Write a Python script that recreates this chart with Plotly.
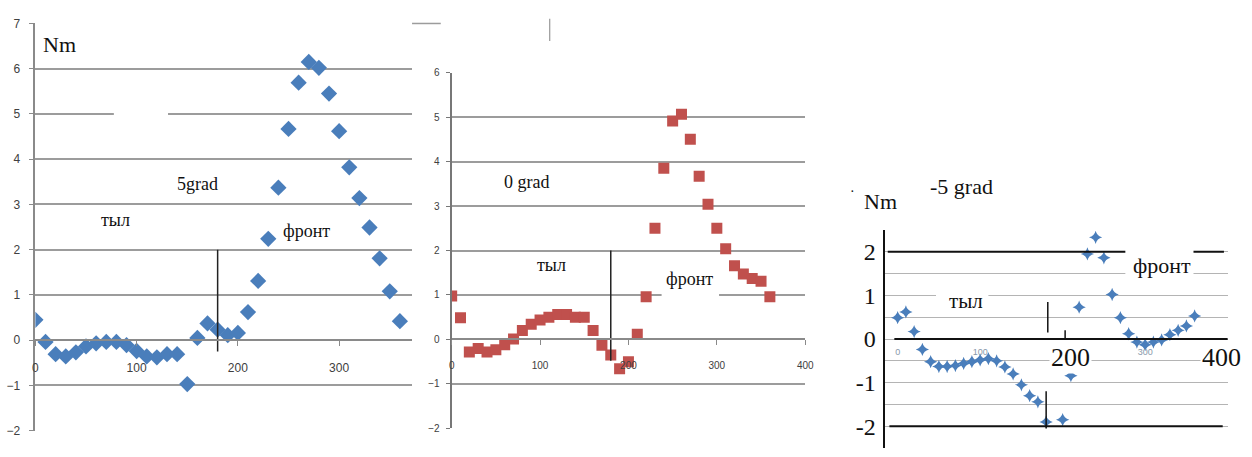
import plotly.graph_objects as go

W, H = 1252, 457

# ---------------- data ----------------
angle_5 = list(range(0, 370, 10))
torque_5 = [0.45, -0.04, -0.31, -0.36, -0.27, -0.14, -0.07, -0.04, -0.04, -0.11,
            -0.24, -0.36, -0.38, -0.31, -0.31, -0.97, 0.05, 0.37, 0.23, 0.11,
            0.16, 0.62, 1.31, 2.24, 3.37, 4.67, 5.69, 6.15, 6.02, 5.45,
            4.62, 3.82, 3.14, 2.49, 1.81, 1.08, 0.42]

angle_0 = list(range(0, 370, 10))
torque_0 = [0.98, 0.49, -0.28, -0.20, -0.28, -0.23, -0.12, 0.01, 0.20, 0.34,
            0.44, 0.50, 0.56, 0.56, 0.50, 0.50, 0.20, -0.13, -0.35, -0.66,
            -0.50, 0.12, 0.96, 2.50, 3.85, 4.91, 5.06, 4.50, 3.67, 3.04,
            2.50, 2.04, 1.66, 1.47, 1.37, 1.31, 0.96]

angle_m5 = list(range(0, 190, 10)) + list(range(200, 370, 10))
torque_m5 = [0.49, 0.62, 0.17, -0.24, -0.52, -0.63, -0.63, -0.61, -0.56, -0.52,
             -0.48, -0.45, -0.50, -0.64, -0.80, -1.05, -1.30, -1.44, -1.90,
             -1.85, -0.84, 0.73, 1.95, 2.33, 1.86, 1.02, 0.49, 0.12, -0.07,
             -0.13, -0.07, -0.02, 0.10, 0.20, 0.30, 0.53]

divider_5_x = [180, 180]
divider_5_y = [2.0, -0.25]
divider_0_x = [180, 180]
divider_0_y = [2.0, -0.48]
divider_m5_x = [182, 182, None, 180, 180, None, 203, 203]
divider_m5_y = [0.85, 0.15, None, -1.2, -2.05, None, 0.2, 0.0]

y_ticks_5 = [-2, -1, 0, 1, 2, 3, 4, 5, 6, 7]
x_ticks_5 = [0, 100, 200, 300]
y_ticks_0 = [-2, -1, 0, 1, 2, 3, 4, 5, 6]
x_ticks_0 = [0, 100, 200, 300, 400]
y_grid_m5 = [-2.5, -2, -1.5, -1, -0.5, 0, 0.5, 1, 1.5, 2]
y_text_m5 = ["", "-2", "", "-1", "", "0", "", "1", "", "2"]
x_ticks_m5 = [0, 100, 300]
x_big_m5 = ["200", "400"]
x_big_m5_pos = [209.7, 392]

# ---------------- layout helpers ----------------
def xdom(p0, p1):
    return [p0 / W, p1 / W]

def ydom(pb, pt):
    return [1 - pb / H, 1 - pt / H]

def zero_pos(dom, rng):
    return dom[0] + (0 - rng[0]) / (rng[1] - rng[0]) * (dom[1] - dom[0])

X1R, Y1R = [0, 372], [-2, 7]
X1D, Y1D = xdom(32.7, 413), ydom(437, 17)
X2R, Y2R = [0, 400], [-2, 6]
X2D, Y2D = xdom(453, 810), ydom(434.8, 67.6)
X3R, Y3R = [-15, 400], [-2.5, 2.5]
X3D, Y3D = xdom(890.8, 1236.5), ydom(455, 230)

BLUE = "#4A7EBB"
RED = "#C0504D"
GRID = "#9C9C9C"
SERIF = "Liberation Serif"
SANS = "Liberation Sans"

fig = go.Figure()

fig.add_trace(go.Scatter(x=angle_5, y=torque_5, mode="markers", xaxis="x", yaxis="y",
                         marker=dict(symbol="diamond", size=12.5, color=BLUE)))
fig.add_trace(go.Scatter(x=divider_5_x, y=divider_5_y, mode="lines", xaxis="x", yaxis="y",
                         line=dict(color="#222", width=1.5)))

fig.add_trace(go.Scatter(x=angle_0, y=torque_0, mode="markers", xaxis="x2", yaxis="y2",
                         marker=dict(symbol="square", size=11, color=RED)))
fig.add_trace(go.Scatter(x=divider_0_x, y=divider_0_y, mode="lines", xaxis="x2", yaxis="y2",
                         line=dict(color="#222", width=1.5)))

fig.add_trace(go.Scatter(x=angle_m5, y=torque_m5, mode="markers", xaxis="x3", yaxis="y3",
                         marker=dict(symbol="star-diamond", size=9.5, color=BLUE)))
fig.add_trace(go.Scatter(x=divider_m5_x, y=divider_m5_y, mode="lines", xaxis="x3", yaxis="y3",
                         line=dict(color="#111", width=1.5), connectgaps=False))

tickfont1 = dict(family=SANS, size=12, color="#404040")
tickfont2 = dict(family=SANS, size=10, color="#404040")

layout = dict(
    width=W, height=H, showlegend=False,
    margin=dict(l=0, r=0, t=0, b=0),
    paper_bgcolor="white", plot_bgcolor="white",
    xaxis=dict(domain=X1D, range=X1R, anchor="free", position=zero_pos(Y1D, Y1R),
               tickvals=x_ticks_5, showgrid=False, zeroline=False,
               showline=True, linecolor="#8A8A8A", linewidth=1.5,
               ticks="outside", ticklen=5, tickcolor="#8A8A8A",
               tickfont=tickfont1, ticklabelstandoff=12),
    yaxis=dict(domain=Y1D, range=Y1R, anchor="x", tickvals=y_ticks_5,
               showgrid=True, gridcolor=GRID, gridwidth=1.5, zeroline=False,
               showline=True, linecolor="#8A8A8A", linewidth=1.5,
               ticks="outside", ticklen=5, tickcolor="#8A8A8A",
               tickfont=tickfont1, ticklabelstandoff=6),
    xaxis2=dict(domain=X2D, range=X2R, anchor="free", position=zero_pos(Y2D, Y2R),
                tickvals=x_ticks_0, showgrid=False, zeroline=False,
                showline=True, linecolor="#8A8A8A", linewidth=1.5,
                ticks="outside", ticklen=5, tickcolor="#8A8A8A",
                tickfont=tickfont2, ticklabelstandoff=12),
    yaxis2=dict(domain=Y2D, range=Y2R, anchor="x2", tickvals=y_ticks_0,
                showgrid=True, gridcolor=GRID, gridwidth=1.5, zeroline=False,
                showline=True, linecolor="#777", linewidth=2,
                ticks="outside", ticklen=4, tickcolor="#777",
                tickfont=tickfont2, ticklabelstandoff=4),
    xaxis3=dict(domain=X3D, range=X3R, anchor="free", position=zero_pos(Y3D, Y3R),
                tickvals=x_ticks_m5, showgrid=False, zeroline=False, showline=False,
                ticks="", tickfont=dict(family=SANS, size=9, color="#8899AA"),
                ticklabelstandoff=6),
    yaxis3=dict(domain=Y3D, range=Y3R, anchor="x3", tickvals=y_grid_m5, ticktext=y_text_m5,
                showgrid=True, gridcolor="#B4B4B4", gridwidth=1.3, zeroline=False,
                showline=True, linecolor="#111", linewidth=1.5, ticks="",
                tickfont=dict(family=SERIF, size=24, color="#111"), ticklabelstandoff=3),
)

shapes = [
    dict(type="rect", xref="x", yref="y", x0=77.5, x1=131, y0=4.9, y1=5.1,
         fillcolor="white", line=dict(width=0), layer="above"),
    dict(type="rect", xref="x2", yref="y2", x0=237.5, x1=302.5, y0=0.9, y1=1.1,
         fillcolor="white", line=dict(width=0), layer="above"),
    dict(type="line", xref="x3", yref="y3", x0=-12, x1=395.5, y0=2, y1=2,
         line=dict(color="#111", width=2), layer="above"),
    dict(type="line", xref="x3", yref="y3", x0=-4, x1=404, y0=0, y1=0,
         line=dict(color="#111", width=2.2), layer="above"),
    dict(type="line", xref="x3", yref="y3", x0=-10, x1=394, y0=-2, y1=-2,
         line=dict(color="#111", width=2), layer="above"),
    dict(type="rect", xref="x3", yref="y3", x0=46.5, x1=110, y0=0.9, y1=1.1,
         fillcolor="white", line=dict(width=0), layer="above"),
    dict(type="rect", xref="x3", yref="y3", x0=276, x1=358.6, y0=1.4, y1=2.12,
         fillcolor="white", line=dict(width=0), layer="above"),
    dict(type="line", xref="paper", yref="paper", x0=413 / W, x1=442 / W,
         y0=1 - 17 / H, y1=1 - 17 / H, line=dict(color=GRID, width=1.5)),
    dict(type="line", xref="paper", yref="paper", x0=552 / W, x1=552 / W,
         y0=1 - 12 / H, y1=1 - 35 / H, line=dict(color="#999", width=1.2)),
]
layout["shapes"] = shapes

def note(text, x, y, xref, yref, size, **kw):
    d = dict(text=text, x=x, y=y, xref=xref, yref=yref, showarrow=False,
             font=dict(family=SERIF, size=size, color="#111"),
             xanchor="center", yanchor="middle")
    d.update(kw)
    return d

annotations = [
    note("Nm", 24, 6.53, "x", "y", 22),
    note("5grad", 160.6, 3.46, "x", "y", 18),
    note("тыл", 79.5, 2.65, "x", "y", 18),
    note("фронт", 268, 2.41, "x", "y", 18),
    note("Nm", 30, 6.51, "x2", "y2", 22),
    note("0 grad", 85, 3.55, "x2", "y2", 18),
    note("тыл", 113, 1.68, "x2", "y2", 18),
    note("фронт", 269, 1.35, "x2", "y2", 18),
    note("Nm", 886 / W, 1 - 200.7 / H, "paper", "paper", 22),
    note("-5 grad", 968 / W, 1 - 185 / H, "paper", "paper", 22),
    note("·", 858 / W, 1 - 190 / H, "paper", "paper", 14),
    note("тыл", 82.5, 0.88, "x3", "y3", 21),
    note("фронт", 320, 1.68, "x3", "y3", 22),
]
for lbl, xp in zip(x_big_m5, x_big_m5_pos):
    annotations.append(note(lbl, xp, -0.43, "x3", "y3", 26, bgcolor="white"))
layout["annotations"] = annotations

fig.update_layout(**layout)
fig.write_html("out.html")
